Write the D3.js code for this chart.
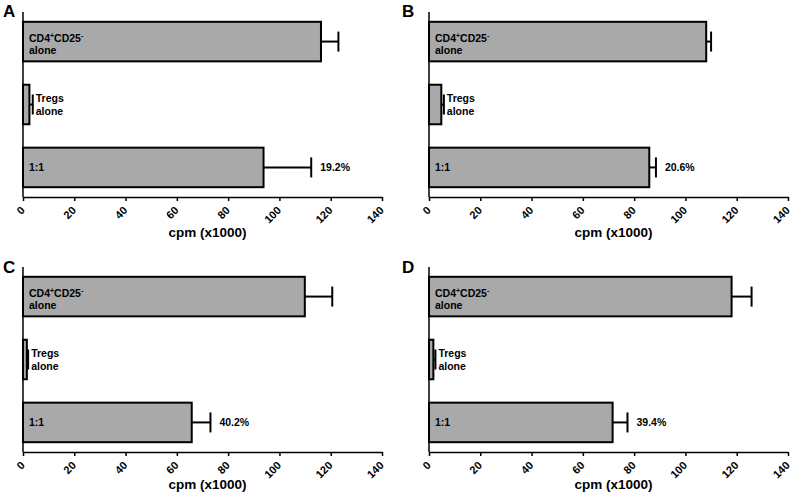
<!DOCTYPE html>
<html><head><meta charset="utf-8">
<script src="https://cdn.jsdelivr.net/npm/d3@7"></script>
<style>body{margin:0;background:#fff}svg{display:block}text{font-family:"Liberation Sans",Arial,sans-serif;font-weight:bold;fill:#000}</style>
</head><body>
<script>
const panelLetters = ["A","B","C","D"];
const categories = ["CD4+CD25- alone","Tregs alone","1:1"];
const meansA = [116.2, 2.5, 93.8];
const errsA  = [6.8, 1.3, 18.6];
const meansB = [108.1, 4.8, 85.9];
const errsB  = [1.9, 1.0, 2.6];
const meansC = [109.9, 1.5, 65.8];
const errsC  = [10.7, 0.5, 7.3];
const meansD = [118.0, 1.7, 71.6];
const errsD  = [7.8, 0.8, 5.8];
const suppression = ["19.2%","20.6%","40.2%","39.4%"];
const xTicks = [0,20,40,60,80,100,120,140];
const xDomain = [0,140];
const xTitle = "cpm (x1000)";

const W = 795, H = 496;
const svg = d3.select("body").append("svg").attr("width",W).attr("height",H);

const layout = [
  {x0:23, x1:382, top:12, bottom:197, lx:3, ly:17, ty:237},
  {x0:429, x1:788, top:12, bottom:197, lx:402, ly:17, ty:237},
  {x0:23, x1:382, top:267, bottom:452, lx:3, ly:273, ty:489},
  {x0:429, x1:788, top:267, bottom:452, lx:402, ly:273, ty:489}
];
const allMeans = [meansA, meansB, meansC, meansD];
const allErrs = [errsA, errsB, errsC, errsD];

layout.forEach((L, p) => {
  const g = svg.append("g");
  const x = d3.scaleLinear().domain(xDomain).range([L.x0, L.x1]);
  const y = d3.scaleBand().domain(categories).range([L.top, L.bottom]).paddingInner(0.34).paddingOuter(0.14);
  const data = categories.map((c,i) => ({c, m: allMeans[p][i], e: allErrs[p][i]}));

  g.append("text").attr("x", L.lx).attr("y", L.ly).attr("font-size", 17).text(panelLetters[p]);

  // bars
  g.selectAll("rect.bar").data(data).join("rect")
    .attr("x", x(0)).attr("y", d => y(d.c)+1)
    .attr("width", d => x(d.m)-x(0)).attr("height", y.bandwidth()-2)
    .attr("fill", "#a9a9a9").attr("stroke", "#000").attr("stroke-width", 2);

  // error bars
  const eb = g.selectAll("g.eb").data(data).join("g");
  eb.append("line")
    .attr("x1", d => x(d.m)).attr("x2", d => x(d.m+d.e))
    .attr("y1", d => y(d.c)+y.bandwidth()/2).attr("y2", d => y(d.c)+y.bandwidth()/2)
    .attr("stroke","#000").attr("stroke-width",2);
  eb.append("line")
    .attr("x1", d => x(d.m+d.e)).attr("x2", d => x(d.m+d.e))
    .attr("y1", d => y(d.c)+y.bandwidth()/2-10).attr("y2", d => y(d.c)+y.bandwidth()/2+10)
    .attr("stroke","#000").attr("stroke-width",2);

  // axes
  const xAxis = d3.axisBottom(x).tickValues(xTicks).tickSize(4).tickSizeOuter(0);
  const ax = g.append("g").attr("transform", `translate(0,${L.bottom})`).call(xAxis);
  ax.select(".domain").attr("stroke","#000").attr("stroke-width",1.5);
  ax.selectAll(".tick line").attr("stroke","#000").attr("stroke-width",1.5);
  ax.selectAll(".tick text")
    .attr("font-size", 11).attr("font-family", '"Liberation Sans",Arial,sans-serif').attr("font-weight","bold")
    .attr("text-anchor","end").attr("x", 0).attr("y", 0).attr("dy", 0)
    .attr("transform", "translate(2,14) rotate(-45)");
  g.append("line").attr("x1", L.x0).attr("x2", L.x0).attr("y1", L.top).attr("y2", L.bottom)
    .attr("stroke","#000").attr("stroke-width",1.5);

  g.append("text").attr("x", (L.x0+L.x1)/2+5).attr("y", L.ty)
    .attr("text-anchor","middle").attr("font-size", 13.5).text(xTitle);

  // labels
  const c0 = y(categories[0]) + y.bandwidth()/2;
  const t0 = g.append("text").attr("x", x(0)+6).attr("y", c0+0.5).attr("font-size", 10.5);
  t0.append("tspan").text("CD4");
  t0.append("tspan").attr("font-size", 7).attr("dy", -4).text("+");
  t0.append("tspan").attr("dy", 4).text("CD25");
  t0.append("tspan").attr("font-size", 7).attr("dy", -4).text("-");
  g.append("text").attr("x", x(0)+6).attr("y", c0+12.5).attr("font-size", 10.5).text("alone");

  const d1 = data[1];
  const c1 = y(d1.c) + y.bandwidth()/2;
  g.append("text").attr("x", x(d1.m+d1.e)+3).attr("y", c1-2.5).attr("font-size", 10.5).text("Tregs");
  g.append("text").attr("x", x(d1.m+d1.e)+3).attr("y", c1+10).attr("font-size", 10.5).text("alone");

  const d2 = data[2];
  const c2 = y(d2.c) + y.bandwidth()/2;
  g.append("text").attr("x", x(0)+6).attr("y", c2+3.5).attr("font-size", 10.5).text("1:1");
  g.append("text").attr("x", x(d2.m+d2.e)+9).attr("y", c2+3.5).attr("font-size", 10.5).text(suppression[p]);
});
</script>
</body></html>
